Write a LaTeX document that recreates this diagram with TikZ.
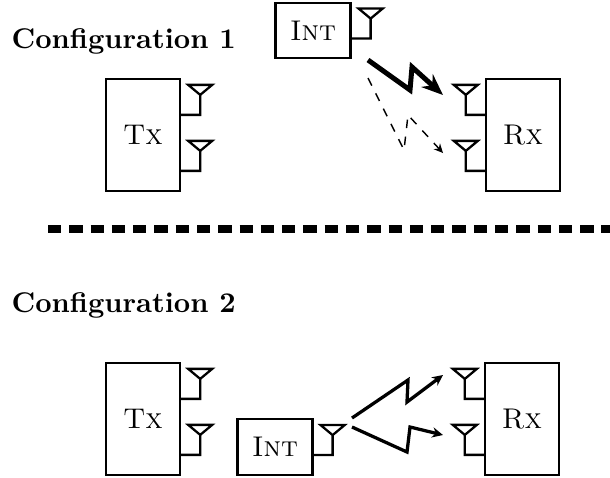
\documentclass[tikz,border=0pt]{standalone}
\usetikzlibrary{arrows.meta}
\begin{document}
\begin{tikzpicture}[x=0.3509pt,y=-0.3509pt,
  box/.style={draw, thick, minimum width=26pt, minimum height=39.3pt, inner sep=0pt},
  intbox/.style={draw, thick, minimum width=26.3pt, minimum height=19.5pt, inner sep=0pt},
  title/.style={anchor=base west, inner sep=0pt, font=\bfseries},
  antR/.pic={\draw[thick] (0,0) -- (19,0) -- (19,-20) (19,-20) -- (7,-30) -- (31,-30) -- cycle;},
  antL/.pic={\draw[thick] (0,0) -- (-19,0) -- (-19,-20) (-19,-20) -- (-31,-30) -- (-7,-30) -- cycle;},
  bigbolt/.style={line width=1.75pt, -{Stealth[length=7.5pt,width=6pt]}},
  echo/.style={dashed, line width=0.5pt, -{Stealth[length=3.2pt,width=3pt]}},
  bolt/.style={line width=1.15pt, -{Stealth[length=3.8pt,width=3.6pt]}},
  sep/.style={line width=2.8pt, dash pattern=on 4.67pt off 2.8pt}
]
\useasboundingbox (0,0) rectangle (610,477);

% ---------- Configuration 1 ----------
\node[title] (c1) at (11,48) {Configuration 1};
\node[box] (tx1) at (143,135) {\textsc{Tx}};
\node[box] (rx1) at (523,135) {\textsc{Rx}};
\node[intbox] (int1) at (313,30.5) {\textsc{Int}};
\path (tx1.north east) ++(0,37) pic {antR};
\path (tx1.north east) ++(0,93) pic {antR};
\path (rx1.north west) ++(0,37) pic {antL};
\path (rx1.north west) ++(0,93) pic {antL};
\path (int1.north east) ++(0,37) pic {antR};

\coordinate (b1s) at (368,60);
\coordinate (b1e) at (443,95);
\draw[bigbolt] (b1s) -- (410,90) -- (412,67) -- (b1e);
\coordinate (e1s) at (368,78);
\coordinate (e1e) at (443,153);
\draw[echo] (e1s) -- (404,150) -- (408,115) -- (e1e);

% ---------- separator ----------
\coordinate (s1) at (48,229);
\coordinate (s2) at (610,229);
\draw[sep] (s1) -- (s2);

% ---------- Configuration 2 ----------
\node[title] (c2) at (11,312) {Configuration 2};
\node[box] (tx2) at (143,419) {\textsc{Tx}};
\node[box] (rx2) at (522,419) {\textsc{Rx}};
\node[intbox] (int2) at (275,447) {\textsc{Int}};
\path (tx2.north east) ++(0,37) pic {antR};
\path (tx2.north east) ++(0,93) pic {antR};
\path (rx2.north west) ++(0,37) pic {antL};
\path (rx2.north west) ++(0,93) pic {antL};
\path (int2.north east) ++(0,37) pic {antR};

\coordinate (u0) at (352,418);
\coordinate (u3) at (443,375);
\draw[bolt] (u0) -- (408,380) -- (407,402) -- (u3);
\coordinate (l0) at (352,427);
\coordinate (l3) at (443,435);
\draw[bolt] (l0) -- (407,452) -- (410,427) -- (l3);
\end{tikzpicture}
\end{document}
